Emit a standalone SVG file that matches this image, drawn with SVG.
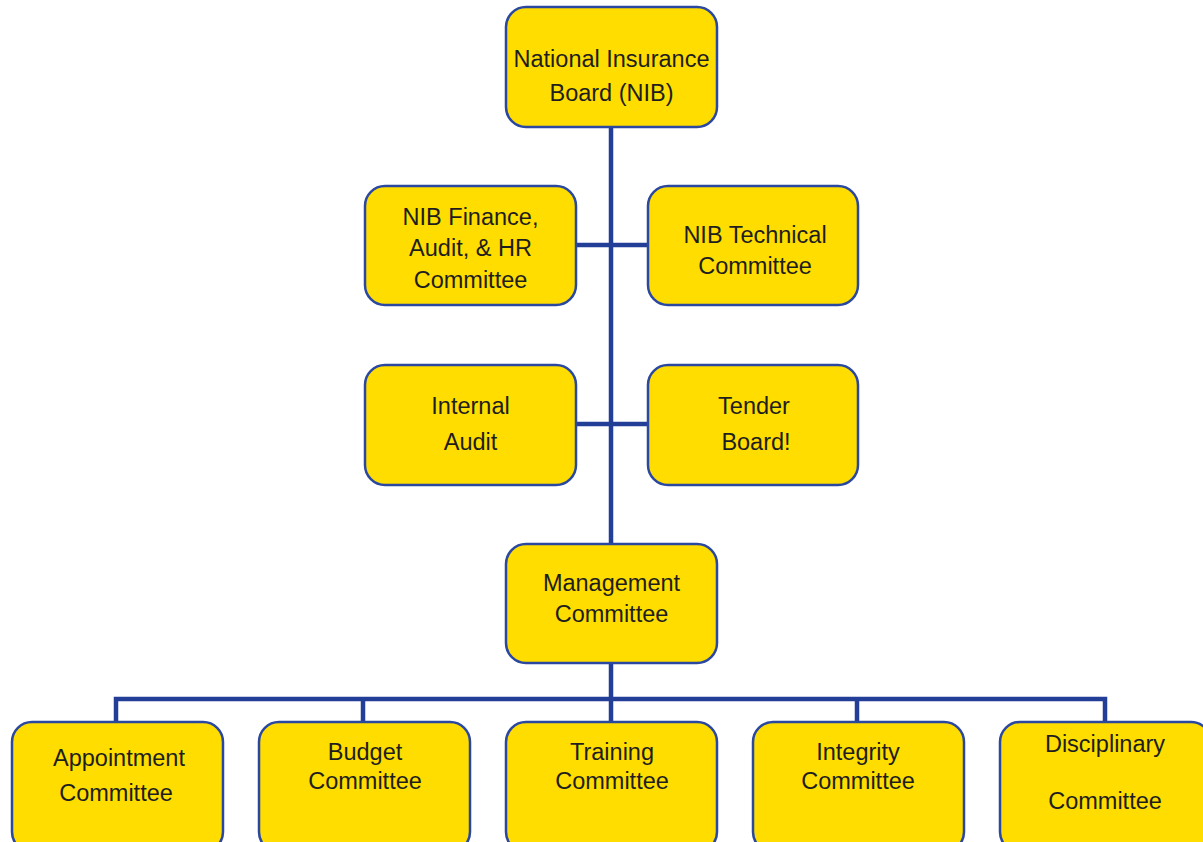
<svg xmlns="http://www.w3.org/2000/svg" width="1203" height="842" viewBox="0 0 1203 842">
  <style>
    .box { fill: #FFDD00; stroke: #2B48A0; stroke-width: 2.5; }
    .lbl { font-family: "Liberation Sans", Arial, sans-serif; font-size: 23.5px; fill: #1E1E1E; text-anchor: middle; }
    .wire { fill: none; stroke: #233E96; stroke-width: 4.5; }
  </style>
  <rect width="1203" height="842" fill="#FFFFFF"/>

  <!-- connectors -->
  <g id="connectors">
    <line class="wire" x1="611" y1="127" x2="611" y2="544"/>
    <line class="wire" x1="576" y1="245" x2="648" y2="245"/>
    <line class="wire" x1="576" y1="424" x2="648" y2="424"/>
    <line class="wire" x1="611" y1="663" x2="611" y2="722"/>
    <polyline class="wire" points="116,722 116,699 1105,699 1105,722"/>
    <line class="wire" x1="363" y1="699" x2="363" y2="722"/>
    <line class="wire" x1="857" y1="699" x2="857" y2="722"/>
  </g>

  <g id="nib">
    <rect class="box" x="506" y="7" width="211" height="120" rx="20"/>
    <text class="lbl" x="611.5" y="67">National Insurance</text>
    <text class="lbl" x="611.5" y="101">Board (NIB)</text>
  </g>

  <g id="finance">
    <rect class="box" x="365" y="186" width="211" height="119" rx="20"/>
    <text class="lbl" x="470.5" y="225">NIB Finance,</text>
    <text class="lbl" x="470.5" y="256">Audit, &amp; HR</text>
    <text class="lbl" x="470.5" y="288">Committee</text>
  </g>

  <g id="technical">
    <rect class="box" x="648" y="186" width="210" height="119" rx="20"/>
    <text class="lbl" x="755" y="243">NIB Technical</text>
    <text class="lbl" x="755" y="274">Committee</text>
  </g>

  <g id="internal-audit">
    <rect class="box" x="365" y="365" width="211" height="120" rx="20"/>
    <text class="lbl" x="470.5" y="414">Internal</text>
    <text class="lbl" x="470.5" y="450">Audit</text>
  </g>

  <g id="tender">
    <rect class="box" x="648" y="365" width="210" height="120" rx="20"/>
    <text class="lbl" x="754" y="414">Tender</text>
    <text class="lbl" x="756" y="450">Board!</text>
  </g>

  <g id="management">
    <rect class="box" x="506" y="544" width="211" height="119" rx="20"/>
    <text class="lbl" x="611.5" y="591">Management</text>
    <text class="lbl" x="611.5" y="622">Committee</text>
  </g>

  <g id="appointment">
    <rect class="box" x="12" y="722" width="211" height="130" rx="20"/>
    <text class="lbl" x="119" y="766">Appointment</text>
    <text class="lbl" x="116" y="801">Committee</text>
  </g>

  <g id="budget">
    <rect class="box" x="259" y="722" width="211" height="130" rx="20"/>
    <text class="lbl" x="365" y="760">Budget</text>
    <text class="lbl" x="365" y="789">Committee</text>
  </g>

  <g id="training">
    <rect class="box" x="506" y="722" width="211" height="130" rx="20"/>
    <text class="lbl" x="612" y="760">Training</text>
    <text class="lbl" x="612" y="789">Committee</text>
  </g>

  <g id="integrity">
    <rect class="box" x="753" y="722" width="211" height="130" rx="20"/>
    <text class="lbl" x="858" y="760">Integrity</text>
    <text class="lbl" x="858" y="789">Committee</text>
  </g>

  <g id="disciplinary">
    <rect class="box" x="1000" y="722" width="211" height="130" rx="20"/>
    <text class="lbl" x="1105" y="752">Disciplinary</text>
    <text class="lbl" x="1105" y="809">Committee</text>
  </g>
</svg>
